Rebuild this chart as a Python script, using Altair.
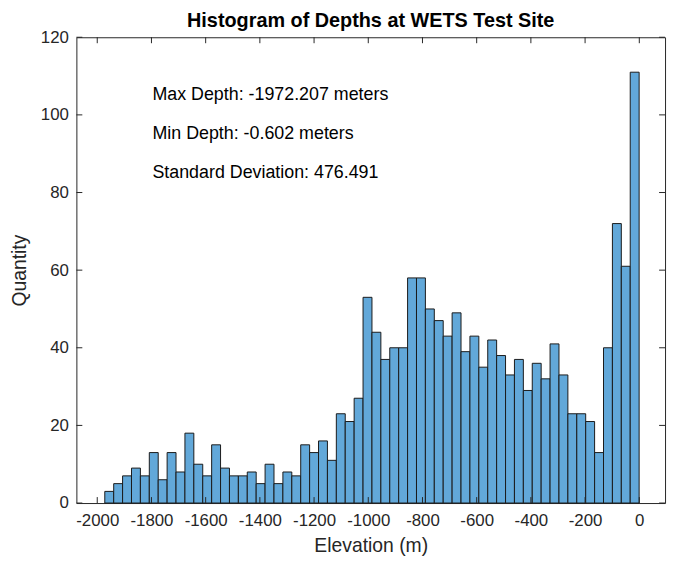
import altair as alt
import pandas as pd

# Histogram counts (60 bins)
counts = [3, 5, 7, 9, 7, 13, 6, 13, 8, 18,
          10, 7, 15, 9, 7, 7, 8, 5, 10, 5,
          8, 7, 15, 13, 16, 11, 23, 21, 27, 53,
          44, 37, 40, 40, 58, 58, 50, 47, 43, 49,
          39, 43, 35, 42, 38, 33, 37, 29, 36, 32,
          41, 33, 23, 23, 21, 13, 40, 72, 61, 111]
min_depth = -1972.207
max_depth = -0.602
x_ticks = [-2000, -1800, -1600, -1400, -1200, -1000, -800, -600, -400, -200, 0]
y_ticks = [0, 20, 40, 60, 80, 100, 120]
notes = ["Max Depth: -1972.207 meters",
         "Min Depth: -0.602 meters",
         "Standard Deviation: 476.491"]
note_y = [105, 95, 85]
note_x = -1800

n = len(counts)
w = (max_depth - min_depth) / n
bars_df = pd.DataFrame({
    "x0": [min_depth + i * w for i in range(n)],
    "x1": [min_depth + (i + 1) * w for i in range(n)],
    "count": counts,
})
xt_df = pd.DataFrame({"x0": x_ticks})
yt_df = pd.DataFrame({"count": y_ticks})
notes_df = pd.DataFrame({"x0": [note_x] * len(notes), "count": note_y, "label": notes})

FONT = "Liberation Sans"
AX = "#262626"
W, H = 594, 470

xscale = alt.Scale(domain=[-2077, 95], nice=False, zero=False)
yscale = alt.Scale(domain=[0, 120], nice=False, zero=False)

xaxis = alt.Axis(values=x_ticks, ticks=False, tickSize=0, domain=False, grid=False,
                 labelExpr="'' + datum.value",
                 labelFont=FONT, labelFontSize=17, labelColor=AX, labelPadding=10,
                 labelFlush=False, title="Elevation (m)", titleFont=FONT,
                 titleFontSize=19.5, titleFontWeight="normal", titleColor=AX,
                 titlePadding=8)
yaxis = alt.Axis(values=y_ticks, ticks=False, tickSize=0, domain=False, grid=False,
                 labelExpr="'' + datum.value",
                 labelFont=FONT, labelFontSize=17, labelColor=AX, labelPadding=8,
                 labelFlush=False, title="Quantity", titleFont=FONT,
                 titleFontSize=19.5, titleFontWeight="normal", titleColor=AX,
                 titlePadding=11)

X = alt.X("x0:Q", scale=xscale, title="Elevation (m)")
Y = alt.Y("count:Q", scale=yscale, title="Quantity")

bars = alt.Chart(bars_df).mark_bar(fill="#62A8D9", stroke="#1a1a1a", strokeWidth=1).encode(
    x=alt.X("x0:Q", scale=xscale, axis=xaxis, title="Elevation (m)"),
    x2="x1:Q",
    y=alt.Y("count:Q", scale=yscale, axis=yaxis, title="Quantity"),
    y2=alt.datum(0),
)

tick_len = 6
xt_bottom = alt.Chart(xt_df).mark_rule(color=AX, strokeWidth=1).encode(
    x=X, y=alt.value(H), y2=alt.value(H - tick_len))
xt_top = alt.Chart(xt_df).mark_rule(color=AX, strokeWidth=1).encode(
    x=X, y=alt.value(0), y2=alt.value(tick_len))
yt_left = alt.Chart(yt_df).mark_rule(color=AX, strokeWidth=1).encode(
    y=Y, x=alt.value(0), x2=alt.value(tick_len))
yt_right = alt.Chart(yt_df).mark_rule(color=AX, strokeWidth=1).encode(
    y=Y, x=alt.value(W), x2=alt.value(W - tick_len))

text = alt.Chart(notes_df).mark_text(align="left", baseline="middle", font=FONT,
                                     fontSize=18, color="#000000", dx=1).encode(
    x=X, y=Y, text="label:N")

chart = alt.layer(bars, xt_bottom, xt_top, yt_left, yt_right, text).properties(
    width=W, height=H,
    background="white",
    autosize=alt.AutoSizeParams(type="none"),
    padding={"left": 69, "top": 27, "right": 5, "bottom": 60},
    title=alt.TitleParams("Histogram of Depths at WETS Test Site", font=FONT,
                          fontSize=20, fontWeight="bold", color="#000000",
                          anchor="middle", offset=6, dy=9),
).configure_view(stroke=AX, strokeWidth=1)

chart.save("out.html", embed_options={"renderer": "svg", "actions": False})
